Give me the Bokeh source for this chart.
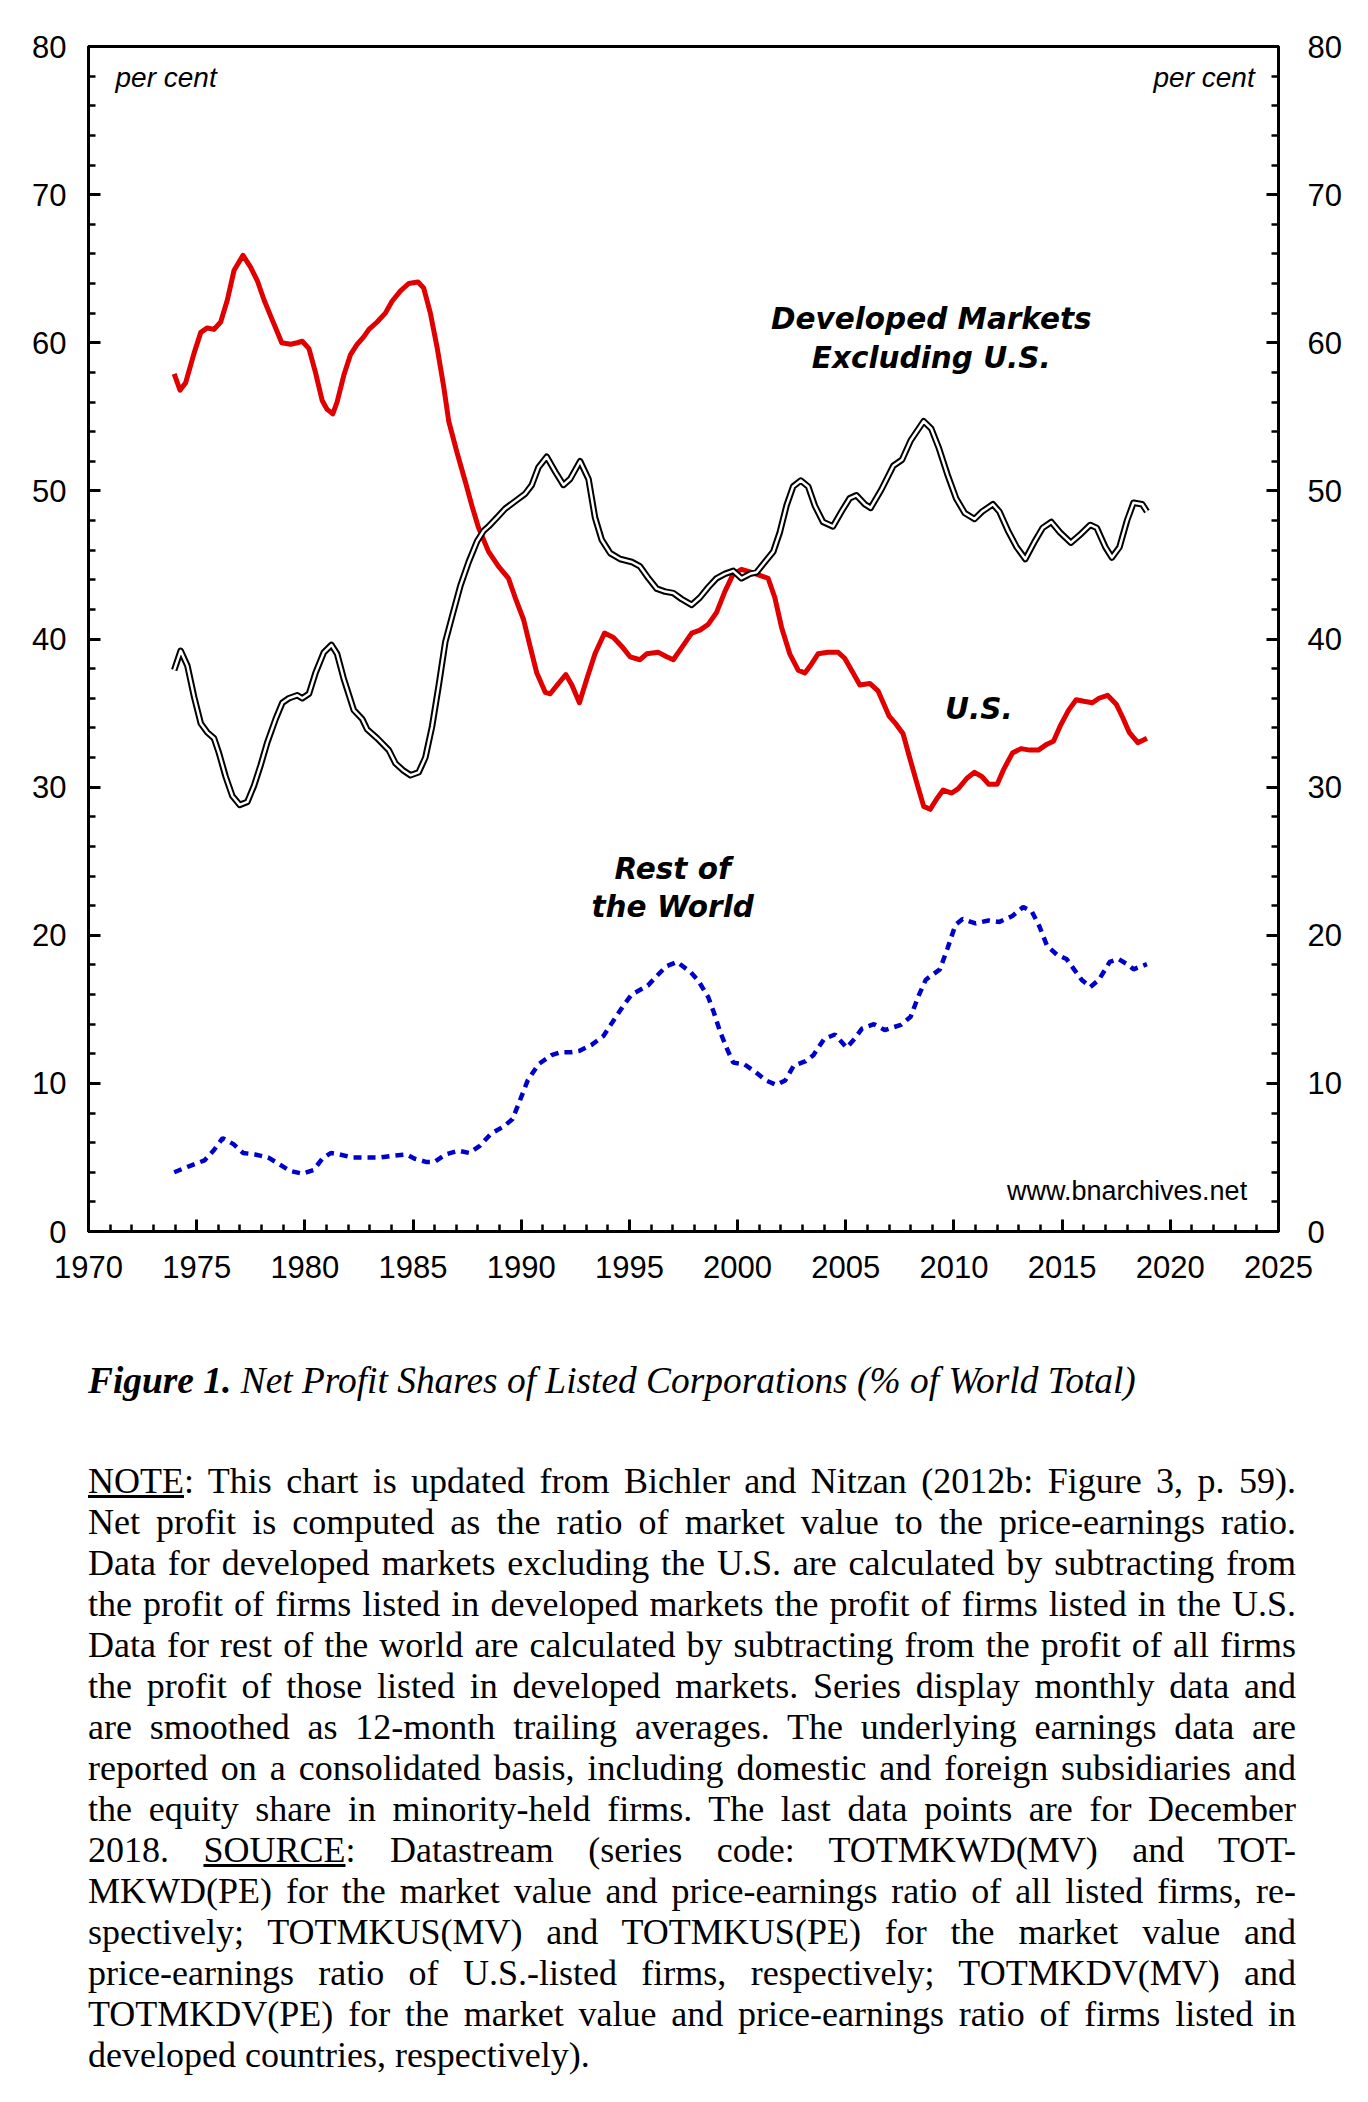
from bokeh.plotting import figure
from bokeh.models import Range1d, LinearAxis, FixedTicker, Div
from bokeh.layouts import column
from bokeh.embed import file_html
from bokeh.resources import INLINE
from bokeh.core.properties import value

# ---------------- data ----------------
us_year = [1973.96, 1974.23, 1974.49, 1974.88, 1975.19, 1975.49, 1975.80, 1976.11, 1976.42, 1976.73,
           1977.14, 1977.49, 1977.80, 1978.11, 1978.42, 1978.65, 1978.93, 1979.34, 1979.65, 1979.88,
           1980.19, 1980.49, 1980.80, 1981.03, 1981.29, 1981.49, 1981.80, 1982.11, 1982.42, 1982.72,
           1982.96, 1983.34, 1983.72, 1984.03, 1984.42, 1984.80, 1985.23, 1985.49, 1985.80, 1986.11,
           1986.42, 1986.65, 1987.03, 1987.42, 1987.72, 1988.03, 1988.49, 1988.95, 1989.41, 1989.72,
           1990.11, 1990.41, 1990.72, 1991.11, 1991.34, 1991.72, 1992.06, 1992.34, 1992.69, 1993.03,
           1993.41, 1993.85, 1994.26, 1994.65, 1995.03, 1995.49, 1995.80, 1996.34, 1996.72, 1997.03,
           1997.41, 1997.88, 1998.26, 1998.65, 1999.03, 1999.41, 1999.80, 2000.18, 2000.65, 2001.03,
           2001.41, 2001.72, 2002.03, 2002.41, 2002.80, 2003.11, 2003.41, 2003.72, 2004.18, 2004.65,
           2004.95, 2005.34, 2005.65, 2006.11, 2006.49, 2007.00, 2007.30, 2007.65, 2007.95, 2008.30,
           2008.60, 2008.90, 2009.20, 2009.50, 2009.90, 2010.20, 2010.60, 2010.95, 2011.30, 2011.60,
           2012.00, 2012.30, 2012.70, 2013.10, 2013.50, 2013.90, 2014.30, 2014.60, 2014.90, 2015.30,
           2015.65, 2016.00, 2016.40, 2016.70, 2017.10, 2017.50, 2017.80, 2018.10, 2018.50, 2018.92]
us_share = [57.9, 56.8, 57.3, 59.3, 60.7, 61.0, 60.9, 61.4, 62.9, 64.9,
            65.9, 65.1, 64.2, 62.9, 61.8, 61.0, 60.0, 59.9, 60.0, 60.1,
            59.6, 58.0, 56.1, 55.5, 55.2, 56.0, 57.8, 59.2, 59.9, 60.4,
            60.9, 61.4, 62.0, 62.8, 63.5, 64.0, 64.1, 63.7, 62.0, 59.7,
            57.0, 54.7, 52.6, 50.6, 49.0, 47.5, 45.9, 44.9, 44.1, 42.8,
            41.3, 39.5, 37.7, 36.4, 36.3, 37.0, 37.6, 36.9, 35.7, 37.3,
            39.0, 40.4, 40.1, 39.5, 38.8, 38.6, 39.0, 39.1, 38.8, 38.6,
            39.4, 40.4, 40.6, 41.0, 41.8, 43.2, 44.4, 44.7, 44.5, 44.3,
            44.1, 42.8, 40.8, 39.0, 37.9, 37.7, 38.3, 39.0, 39.1, 39.1,
            38.7, 37.7, 36.9, 37.0, 36.5, 34.8, 34.3, 33.6, 32.0, 30.2,
            28.7, 28.5, 29.2, 29.8, 29.6, 29.9, 30.6, 31.0, 30.7, 30.2,
            30.2, 31.2, 32.3, 32.6, 32.5, 32.5, 32.9, 33.1, 34.1, 35.2,
            35.9, 35.8, 35.7, 36.0, 36.2, 35.6, 34.7, 33.7, 33.0, 33.3]

dev_year = [1973.96, 1974.26, 1974.57, 1974.88, 1975.19, 1975.49, 1975.80, 1976.03, 1976.34, 1976.65,
            1976.99, 1977.34, 1977.65, 1977.96, 1978.26, 1978.65, 1978.96, 1979.26, 1979.65, 1979.88,
            1980.19, 1980.49, 1980.88, 1981.23, 1981.49, 1981.80, 1982.26, 1982.65, 1982.88, 1983.34,
            1983.88, 1984.19, 1984.57, 1984.88, 1985.26, 1985.57, 1985.88, 1986.19, 1986.49, 1986.80,
            1987.19, 1987.57, 1987.96, 1988.26, 1988.49, 1988.88, 1989.26, 1989.72, 1990.18, 1990.49,
            1990.80, 1991.18, 1991.57, 1991.95, 1992.26, 1992.72, 1993.11, 1993.41, 1993.72, 1994.11,
            1994.57, 1995.11, 1995.49, 1995.88, 1996.26, 1996.65, 1997.03, 1997.41, 1997.88, 1998.26,
            1998.65, 1999.03, 1999.41, 1999.80, 2000.18, 2000.57, 2000.88, 2001.26, 2001.65, 2001.95,
            2002.26, 2002.57, 2002.92, 2003.26, 2003.57, 2003.95, 2004.41, 2004.80, 2005.18, 2005.49,
            2005.88, 2006.15, 2006.65, 2007.20, 2007.60, 2008.00, 2008.60, 2008.95, 2009.30, 2009.70,
            2010.10, 2010.50, 2010.95, 2011.30, 2011.80, 2012.10, 2012.50, 2012.90, 2013.30, 2013.70,
            2014.10, 2014.50, 2014.90, 2015.40, 2015.80, 2016.30, 2016.60, 2017.00, 2017.30, 2017.65,
            2018.00, 2018.30, 2018.70, 2018.92]
dev_share = [37.9, 39.2, 38.2, 36.1, 34.3, 33.7, 33.3, 32.3, 30.7, 29.4,
             28.8, 29.0, 30.1, 31.5, 33.0, 34.6, 35.7, 36.0, 36.2, 36.0,
             36.3, 37.7, 39.1, 39.6, 39.0, 37.3, 35.2, 34.6, 33.9, 33.3,
             32.5, 31.6, 31.1, 30.8, 31.0, 32.0, 34.1, 36.9, 39.8, 41.5,
             43.6, 45.2, 46.6, 47.3, 47.6, 48.2, 48.8, 49.3, 49.8, 50.4,
             51.6, 52.3, 51.3, 50.4, 50.8, 52.0, 50.8, 48.2, 46.7, 45.8,
             45.4, 45.2, 44.9, 44.1, 43.4, 43.2, 43.1, 42.7, 42.3, 42.8,
             43.5, 44.1, 44.4, 44.6, 44.1, 44.4, 44.5, 45.2, 45.9, 47.2,
             49.0, 50.3, 50.7, 50.3, 49.0, 47.9, 47.6, 48.6, 49.5, 49.7,
             49.1, 48.85, 50.1, 51.7, 52.1, 53.4, 54.7, 54.2, 52.9, 51.1,
             49.5, 48.5, 48.1, 48.6, 49.1, 48.6, 47.3, 46.2, 45.4, 46.5,
             47.5, 47.9, 47.2, 46.5, 47.0, 47.7, 47.5, 46.2, 45.5, 46.2,
             48.0, 49.2, 49.1, 48.6]

row_year = [1973.96, 1974.64, 1975.36, 1975.80, 1976.20, 1976.70, 1977.15, 1977.70, 1978.30, 1978.75,
            1979.30, 1979.90, 1980.40, 1980.80, 1981.20, 1981.60, 1982.20, 1982.80, 1983.50, 1984.00,
            1984.70, 1985.10, 1985.60, 1986.00, 1986.50, 1987.10, 1987.60, 1988.10, 1988.60, 1989.20,
            1989.60, 1989.90, 1990.30, 1990.80, 1991.40, 1991.80, 1992.30, 1992.70, 1993.25, 1993.80,
            1994.20, 1994.70, 1995.10, 1995.85, 1996.30, 1996.70, 1997.20, 1997.84, 1998.20, 1998.65,
            1998.90, 1999.20, 1999.55, 1999.80, 2000.30, 2000.80, 2001.30, 2001.80, 2002.20, 2002.60,
            2003.15, 2003.50, 2004.00, 2004.50, 2005.04, 2005.40, 2005.75, 2006.30, 2006.80, 2007.55,
            2008.00, 2008.36, 2008.70, 2009.35, 2009.70, 2010.07, 2010.40, 2011.00, 2011.60, 2012.10,
            2012.70, 2013.20, 2013.60, 2013.95, 2014.30, 2014.75, 2015.20, 2015.55, 2015.90, 2016.30,
            2016.70, 2017.20, 2017.60, 2018.00, 2018.30, 2018.92]
row_share = [4.0, 4.4, 4.8, 5.5, 6.3, 5.9, 5.3, 5.2, 5.0, 4.6,
             4.1, 3.9, 4.15, 4.9, 5.3, 5.2, 5.0, 5.0, 5.0, 5.1,
             5.2, 4.9, 4.7, 4.7, 5.2, 5.45, 5.3, 5.8, 6.6, 7.1,
             7.6, 8.7, 10.2, 11.3, 11.9, 12.1, 12.1, 12.2, 12.6, 13.2,
             14.1, 15.2, 16.0, 16.6, 17.3, 17.9, 18.2, 17.5, 16.9, 15.8,
             14.8, 13.45, 12.2, 11.4, 11.3, 10.8, 10.2, 9.9, 10.2, 11.2,
             11.5, 11.9, 13.0, 13.3, 12.4, 13.0, 13.7, 14.0, 13.6, 13.95,
             14.5, 15.9, 17.0, 17.7, 19.1, 20.7, 21.1, 20.8, 21.0, 20.9,
             21.3, 21.9, 21.6, 20.6, 19.3, 18.7, 18.4, 17.7, 17.0, 16.5,
             17.0, 18.2, 18.4, 18.05, 17.7, 18.05]

x_major_ticks = list(range(1970, 2026, 5))
x_minor_ticks = list(range(1970, 2026, 1))
y_major_ticks = list(range(0, 81, 10))
y_minor_ticks = list(range(0, 81, 2))

series_labels = ["Developed Markets", "Excluding U.S.", "U.S.", "Rest of", "the World"]

caption_bold = "Figure 1."
caption_rest = "Net Profit Shares of Listed Corporations (% of World Total)"

note_lines = [
    "<u>NOTE</u>: This chart is updated from Bichler and Nitzan (2012b: Figure 3, p. 59).",
    "Net profit is computed as the ratio of market value to the price-earnings ratio.",
    "Data for developed markets excluding the U.S. are calculated by subtracting from",
    "the profit of firms listed in developed markets the profit of firms listed in the U.S.",
    "Data for rest of the world are calculated by subtracting from the profit of all firms",
    "the profit of those listed in developed markets. Series display monthly data and",
    "are smoothed as 12-month trailing averages. The underlying earnings data are",
    "reported on a consolidated basis, including domestic and foreign subsidiaries and",
    "the equity share in minority-held firms. The last data points are for December",
    "2018. <u>SOURCE</u>: Datastream (series code: TOTMKWD(MV) and TOT-",
    "MKWD(PE) for the market value and price-earnings ratio of all listed firms, re-",
    "spectively; TOTMKUS(MV) and TOTMKUS(PE) for the market value and",
    "price-earnings ratio of U.S.-listed firms, respectively; TOTMKDV(MV) and",
    "TOTMKDV(PE) for the market value and price-earnings ratio of firms listed in",
    "developed countries, respectively).",
]

# ---------------- figure ----------------
p = figure(width=1360, height=1300,
           x_range=Range1d(1970, 2025), y_range=Range1d(0, 80),
           output_backend="svg", toolbar_location=None,
           min_border_left=88, min_border_right=82,
           min_border_top=46, min_border_bottom=69)
p.grid.visible = False
p.outline_line_color = "black"
p.outline_line_width = 3
p.background_fill_color = "white"
p.border_fill_color = "white"

right_axis = LinearAxis()
p.add_layout(right_axis, "right")


def style_axis(ax, ticker, standoff):
    ax.ticker = ticker
    ax.axis_line_color = "black"
    ax.axis_line_width = 3
    ax.major_tick_in = 12
    ax.major_tick_out = 0
    ax.minor_tick_in = 7
    ax.minor_tick_out = 0
    ax.major_tick_line_width = 3
    ax.minor_tick_line_width = 2.5
    ax.major_tick_line_color = "black"
    ax.minor_tick_line_color = "black"
    ax.major_label_text_font = "Liberation Sans"
    ax.major_label_text_font_size = "31px"
    ax.major_label_text_color = "black"
    ax.major_label_standoff = standoff


style_axis(p.xaxis[0], FixedTicker(ticks=x_major_ticks, minor_ticks=x_minor_ticks), 24)
style_axis(p.yaxis[0], FixedTicker(ticks=y_major_ticks, minor_ticks=y_minor_ticks), 22)
style_axis(right_axis, FixedTicker(ticks=y_major_ticks, minor_ticks=y_minor_ticks), 29)

# series
p.line(us_year, us_share, line_color="#e00000", line_width=5, line_join="round")
p.line(dev_year, dev_share, line_color="black", line_width=6.5, line_join="round")
p.line(dev_year, dev_share, line_color="white", line_width=2.5, line_join="round")
p.line(row_year, row_share, line_color="#0000cc", line_width=4.5, line_dash="8 6")

# labels
bold_it = dict(text_font=value("DejaVu Sans"), text_font_style="bold italic",
               text_font_size="29.5px", text_color="black", text_align="center",
               text_baseline="alphabetic")
p.text(x=[2008.95, 2008.95, 2011.15, 1997.0, 1997.0],
       y=[61.6, 58.95, 35.3, 24.5, 21.9],
       text=series_labels, **bold_it)

p.text(x=[1971.25], y=[77.9], text=["per cent"], text_font=value("Liberation Sans"),
       text_font_style="italic", text_font_size="28px", text_color="black",
       text_align="left", text_baseline="alphabetic")
p.text(x=[2023.9], y=[77.9], text=["per cent"], text_font=value("Liberation Sans"),
       text_font_style="italic", text_font_size="28px", text_color="black",
       text_align="right", text_baseline="alphabetic")
p.text(x=[2023.55], y=[2.75], text=["www.bnarchives.net"], text_font=value("Liberation Sans"),
       text_font_size="27px", text_color="black", text_align="right",
       text_baseline="alphabetic")

# ---------------- caption and note ----------------
cap_html = ('<div style="margin:0;padding:56px 0 0 83px;font-family:\'Liberation Serif\',serif;'
            'font-style:italic;font-size:37.4px;line-height:40px;color:#000;white-space:nowrap;">'
            '<b>' + caption_bold + '</b> ' + caption_rest + '</div>')
caption = Div(text=cap_html, width=1360, height=136)

rows = []
for i, ln in enumerate(note_lines):
    last = (i == len(note_lines) - 1)
    align = "text-align:left;" if last else "text-align:justify;text-align-last:justify;"
    rows.append('<div style="' + align + '">' + ln + '</div>')
note_html = ('<div style="margin:0 0 0 83px;padding:10px 0 0 0;width:1208px;'
             'font-family:\'Liberation Serif\',serif;font-size:36px;line-height:41px;'
             'color:#000;white-space:normal;">' + "".join(rows) + '</div>')
note = Div(text=note_html, width=1360, height=650)

layout = column(p, caption, note, spacing=0)

open("out.html", "w").write(file_html(layout, INLINE))
